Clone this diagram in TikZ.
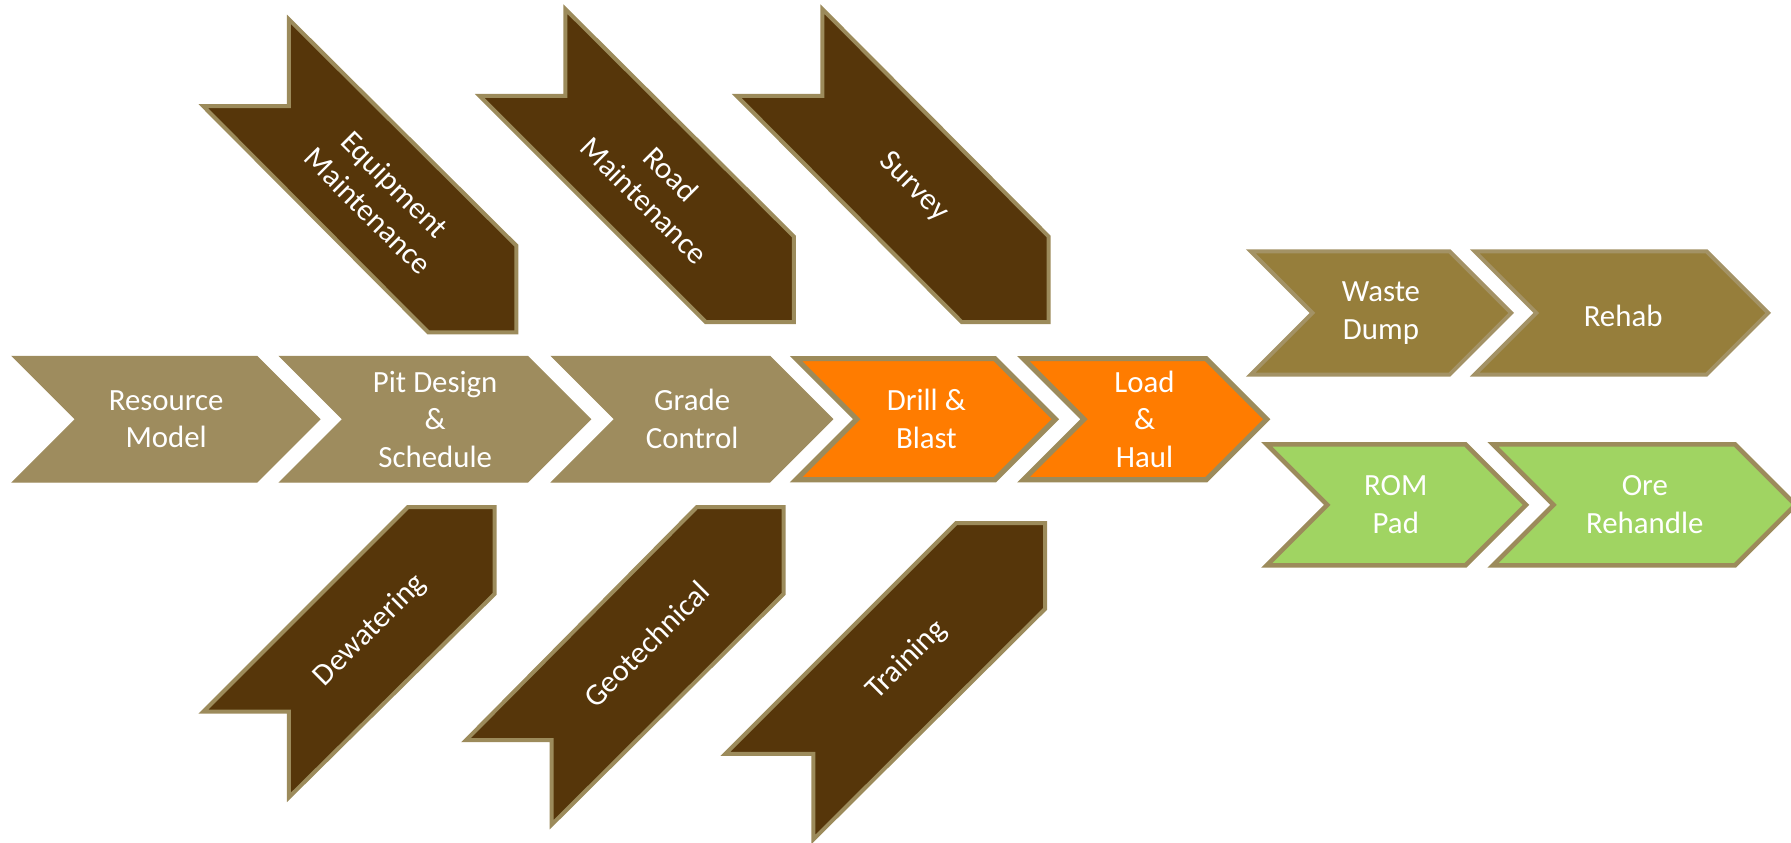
\documentclass[tikz,border=0pt]{standalone}
\usepackage{fontspec}
\setmainfont{Carlito}
\definecolor{tanfill}{HTML}{9E8C5E}
\definecolor{tanline}{HTML}{9C8B5B}
\definecolor{oliveline}{HTML}{A39265}
\definecolor{darkbrown}{HTML}{56360A}
\definecolor{olivefill}{HTML}{967E3B}
\definecolor{orangefill}{HTML}{FF7C00}
\definecolor{greenfill}{HTML}{A0D462}
\begin{document}
\begin{tikzpicture}[x=1pt,y=-1pt,
  tanarrow/.style={fill=tanfill, draw=tanfill, line width=1pt, line join=miter},
  brownarrow/.style={fill=darkbrown, draw=tanline, line width=3.5pt, line join=miter},
  orangearrow/.style={fill=orangefill, draw=tanline, line width=4.5pt, line join=miter},
  olivearrow/.style={fill=olivefill, draw=oliveline, line width=3.5pt, line join=miter},
  greenarrow/.style={fill=greenfill, draw=tanline, line width=4pt, line join=miter},
  lbl/.style={text=white, font=\fontsize{27}{33}\selectfont, align=center, inner sep=0pt}]
\useasboundingbox (0,0) rectangle (1568,738);
% top branches
\draw[brownarrow] (178,93) -- (253,93) -- (253,17) -- (452,215) -- (452,291) -- (375,291) -- cycle;
\draw[brownarrow] (420,84) -- (495,84) -- (495,8) -- (695,207) -- (695,282) -- (618,282) -- cycle;
\draw[brownarrow] (645,84) -- (720,84) -- (720,8) -- (918,207) -- (918,282) -- (842,282) -- cycle;
% bottom branches
\draw[brownarrow] (178,623) -- (357,444) -- (433,444) -- (433,520) -- (253,698) -- (253,623) -- cycle;
\draw[brownarrow] (408,648) -- (610,444) -- (686,444) -- (686,520) -- (483,722) -- (483,648) -- cycle;
\draw[brownarrow] (635,660) -- (837,458) -- (915,458) -- (915,533) -- (712,735) -- (712,660) -- cycle;
% main row
\draw[tanarrow] (11,312) -- (225,312) -- (280,367) -- (225,422) -- (11,422) -- (66,367) -- cycle;
\draw[tanarrow] (245,312) -- (462,312) -- (517,367) -- (462,422) -- (245,422) -- (300,367) -- cycle;
\draw[tanarrow] (483,312) -- (674,312) -- (729,367) -- (674,422) -- (483,422) -- (538,367) -- cycle;
\draw[orangearrow] (697,314) -- (871,314) -- (924,367) -- (871,420) -- (697,420) -- (750,367) -- cycle;
\draw[orangearrow] (896,314) -- (1056,314) -- (1109,367) -- (1056,420) -- (896,420) -- (949,367) -- cycle;
% right side
\draw[olivearrow] (1095,220) -- (1269,220) -- (1323,274) -- (1269,328) -- (1095,328) -- (1149,274) -- cycle;
\draw[olivearrow] (1291,220) -- (1494,220) -- (1548,274) -- (1494,328) -- (1291,328) -- (1345,274) -- cycle;
\draw[greenarrow] (1109,389) -- (1283,389) -- (1336,442) -- (1283,495) -- (1109,495) -- (1162,442) -- cycle;
\draw[greenarrow] (1307,389) -- (1519,389) -- (1572,442) -- (1519,495) -- (1307,495) -- (1360,442) -- cycle;
% labels
\node[lbl] (resource) at (145.5,367) {Resource\\Model};
\node[lbl] (pit) at (381,367) {Pit Design\\\&\\Schedule};
\node[lbl] (grade) at (606,367) {Grade\\Control};
\node[lbl] (drill) at (811,367) {Drill \&\\Blast};
\node[lbl] (load) at (1002,367) {Load\\\&\\Haul};
\node[lbl] (waste) at (1209,274) {Waste\\Dump};
\node[lbl] (rehab) at (1421,277) {Rehab};
\node[lbl] (rom) at (1222,442) {ROM\\Pad};
\node[lbl] (ore) at (1440,442) {Ore\\Rehandle};
\node[lbl, rotate=-45] (equip) at (334,173) {Equipment\\Maintenance};
\node[lbl, rotate=-45] (road) at (576,164) {Road\\Maintenance};
\node[lbl, rotate=-45] (survey) at (800,164) {Survey};
\node[lbl, rotate=45] (dewater) at (324,552) {Dewatering};
\node[lbl, rotate=45] (geotech) at (566,564) {Geotechnical};
\node[lbl, rotate=45] (training) at (794,578) {Training};
\end{tikzpicture}
\end{document}
